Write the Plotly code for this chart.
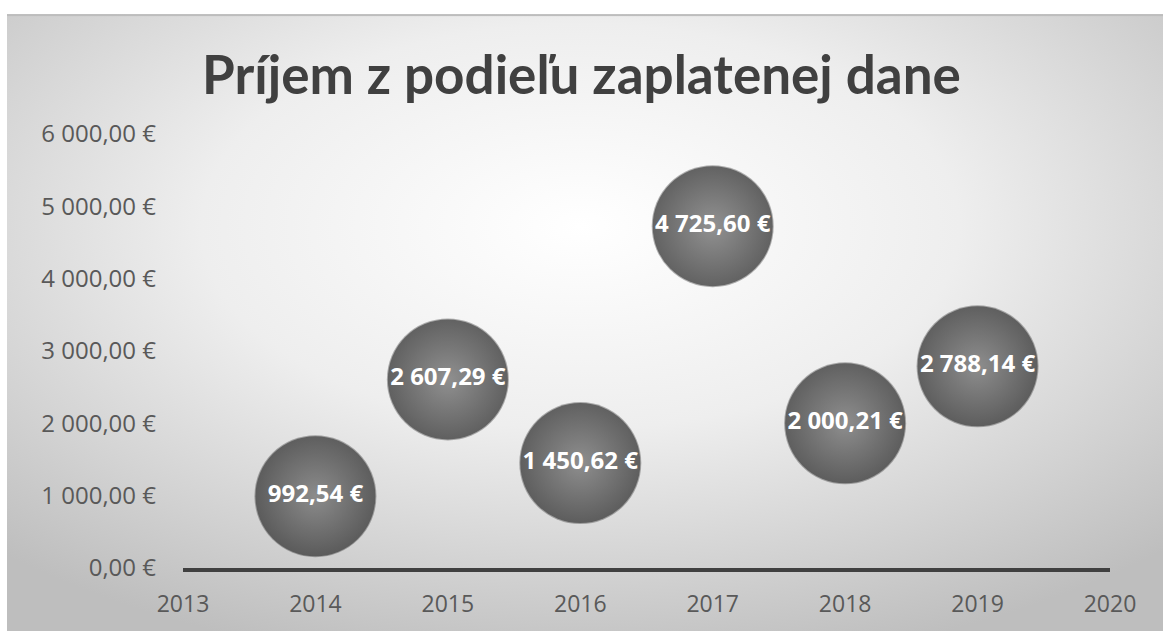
import plotly.graph_objects as go
import urllib.parse

years = [2014, 2015, 2016, 2017, 2018, 2019]
values = [992.54, 2607.29, 1450.62, 4725.60, 2000.21, 2788.14]
bubble_sizes = [1, 1, 1, 1, 1, 1]
y_ticks = [0, 1000, 2000, 3000, 4000, 5000, 6000]
x_ticks = [2013, 2014, 2015, 2016, 2017, 2018, 2019, 2020]
title_text = "Príjem z podieľu zaplatenej dane"


def eur(v):
    s = f"{v:,.2f}".replace(",", " ").replace(".", ",")
    return s + " €"


W, H = 1163, 631
L, R, T, B = 183, 53, 134, 59
pw, ph = W - L - R, H - T - B

svg = (
    "<svg xmlns='http://www.w3.org/2000/svg' width='1170' height='630' viewBox='0 0 1170 630' preserveAspectRatio='none'>"
    "<defs><radialGradient id='g' cx='49%' cy='34%' r='72%'>"
    "<stop offset='0%' stop-color='#ffffff'/><stop offset='45%' stop-color='#eeeeee'/>"
    "<stop offset='100%' stop-color='#bebebe'/></radialGradient></defs>"
    "<rect width='1170' height='630' fill='url(#g)'/>"
    "<rect width='1170' height='2' fill='#bdbdbd'/></svg>"
)
bg_src = "data:image/svg+xml;charset=utf-8," + urllib.parse.quote(svg)

fig = go.Figure()
# soft edge halo
fig.add_trace(go.Scatter(
    x=years, y=values, mode="markers",
    marker=dict(size=[s * 122 for s in bubble_sizes], color="rgba(55,55,55,0.55)",
                line=dict(width=0)),
    hoverinfo="skip", cliponaxis=False, showlegend=False))
# sphere body with radial gradient
fig.add_trace(go.Scatter(
    x=years, y=values, mode="markers+text",
    marker=dict(size=[s * 120 for s in bubble_sizes], color="#424242",
                gradient=dict(type="radial", color="#858585"),
                line=dict(width=0)),
    text=[eur(v) for v in values], textposition="middle center",
    textfont=dict(family="Open Sans", size=24, color="white", weight="bold"),
    cliponaxis=False, showlegend=False))

fig.update_layout(
    width=W, height=H,
    margin=dict(l=L, r=R, t=T, b=B),
    paper_bgcolor="white", plot_bgcolor="rgba(0,0,0,0)",
    title=dict(text=title_text, x=0.5, xref="container", y=1 - 75 / H, yref="container",
               xanchor="center", yanchor="middle",
               font=dict(family="Lato", size=53, color="#404040", weight="bold")),
    xaxis=dict(range=[2013, 2020], tickvals=x_ticks, ticktext=[str(v) for v in x_ticks],
               showgrid=False, zeroline=False, showline=True, linecolor="#404040",
               linewidth=4, ticks="", ticklabelstandoff=12,
               tickfont=dict(family="Open Sans", size=23, color="#595959")),
    yaxis=dict(range=[0, 6000], tickvals=y_ticks, ticktext=[eur(v) for v in y_ticks],
               showgrid=False, zeroline=False, showline=False, ticks="",
               ticklabelstandoff=26,
               tickfont=dict(family="Open Sans", size=24, color="#595959")),
    images=[dict(source=bg_src, xref="paper", yref="paper",
                 x=(7 - L) / pw, y=(H - B - 13) / ph,
                 sizex=(W - 7 + 14) / pw, sizey=(H - 13 + 12) / ph,
                 xanchor="left", yanchor="top", sizing="stretch", layer="below")],
)

fig.write_html("out.html")
